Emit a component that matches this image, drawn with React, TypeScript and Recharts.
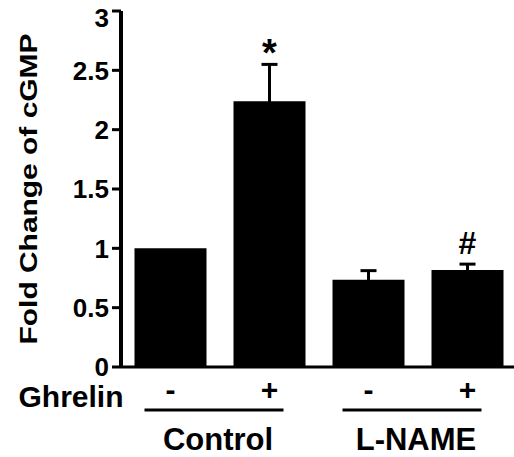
import React from "react";
import {
  BarChart,
  Bar,
  XAxis,
  YAxis,
  ErrorBar,
  LabelList,
} from "recharts";

const ghrelin = ["-", "+", "-", "+"];
const groups = ["Control", "", "L-NAME", ""];
const foldChange = [1.0, 2.24, 0.735, 0.817];
const sem = [0, 0.31, 0.077, 0.05];
const marks = ["", "*", "", "#"];
const yTicks = [0, 0.5, 1, 1.5, 2, 2.5, 3];

const data = ghrelin.map((g, i) => ({
  ghrelin: g,
  group: groups[i],
  value: foldChange[i],
  err: sem[i],
  mark: marks[i],
}));

const FONT = "'Liberation Sans', Arial, Helvetica, sans-serif";
const CHART_W = 520;
const CHART_H = 457;
const Y_AXIS_W = 121;
const RIGHT = 3;
const BAND = (CHART_W - Y_AXIS_W - RIGHT) / data.length;

const GroupTick = (props: any) => {
  const { x, y, payload, index } = props;
  const group = groups[index];
  return (
    <g fontFamily={FONT} fontWeight="bold" fill="#000">
      <text x={x} y={y + 33} textAnchor="middle" fontSize={30}>
        {payload.value}
      </text>
      {index === 0 && (
        <text x={x - 47} y={y + 40} textAnchor="end" fontSize={30}>
          Ghrelin
        </text>
      )}
      {group && (
        <g>
          <line
            x1={x - 26}
            x2={x + BAND + 14}
            y1={y + 43}
            y2={y + 43}
            stroke="#000"
            strokeWidth={3}
          />
          <text
            x={x + BAND / 2 - 2}
            y={y + 83}
            textAnchor="middle"
            fontSize={31}
          >
            {group}
          </text>
        </g>
      )}
    </g>
  );
};

// top label sits below its tick so it is not clipped
const ValueTick = (props: any) => {
  const { x, y, payload } = props;
  const shift = payload.value === 3 ? 7 : 0;
  return (
    <text
      x={x}
      y={y + shift}
      dy="0.355em"
      textAnchor="end"
      fontFamily={FONT}
      fontWeight="bold"
      fontSize={26}
      fill="#000"
    >
      {payload.value}
    </text>
  );
};

const MarkLabel = (props: any) => {
  const { x, y, width, height, index } = props;
  const m = marks[index];
  if (!m) return null;
  const perUnit = height / foldChange[index];
  const top = y - sem[index] * perUnit;
  const star = m === "*";
  return (
    <text
      x={x + width / 2}
      y={star ? top + 2 : top - 10}
      textAnchor="middle"
      fontFamily={FONT}
      fontWeight="bold"
      fontSize={star ? 38 : 32}
      fill="#000"
    >
      {m}
    </text>
  );
};

export default function App() {
  return (
    <div
      style={{
        position: "absolute",
        left: 0,
        top: 0,
        width: 514,
        height: 457,
        overflow: "hidden",
        background: "#fff",
      }}
    >
      <BarChart
        width={CHART_W}
        height={CHART_H}
        data={data}
        margin={{ top: 11, right: RIGHT, bottom: 0, left: 0 }}
        barCategoryGap={13.5}
      >
        <XAxis
          dataKey="ghrelin"
          height={90}
          axisLine={{ stroke: "#000", strokeWidth: 3 }}
          tickLine={false}
          tickSize={0}
          tickMargin={0}
          interval={0}
          tick={<GroupTick />}
        />
        <YAxis
          width={Y_AXIS_W}
          domain={[0, 3]}
          ticks={yTicks}
          interval={0}
          axisLine={{ stroke: "#000", strokeWidth: 4 }}
          tickLine={{ stroke: "#000", strokeWidth: 3 }}
          tickSize={9}
          tickMargin={3}
          tick={<ValueTick />}
          label={{
            content: (p: any) => {
              const vb = p.viewBox || { y: 11, height: 356 };
              const cy = vb.y + vb.height / 2;
              return (
                <text
                  x={37}
                  y={cy}
                  transform={`rotate(-90, 37, ${cy})`}
                  textAnchor="middle"
                  fontFamily={FONT}
                  fontWeight="bold"
                  fontSize={24}
                  fill="#000"
                  textLength={311}
                  lengthAdjust="spacingAndGlyphs"
                >
                  Fold Change of cGMP
                </text>
              );
            },
          }}
        />
        <Bar dataKey="value" fill="#000" isAnimationActive={false}>
          <ErrorBar
            dataKey="err"
            direction="y"
            width={8}
            stroke="#000"
            strokeWidth={3}
          />
          <LabelList dataKey="mark" content={<MarkLabel />} />
        </Bar>
      </BarChart>
    </div>
  );
}
